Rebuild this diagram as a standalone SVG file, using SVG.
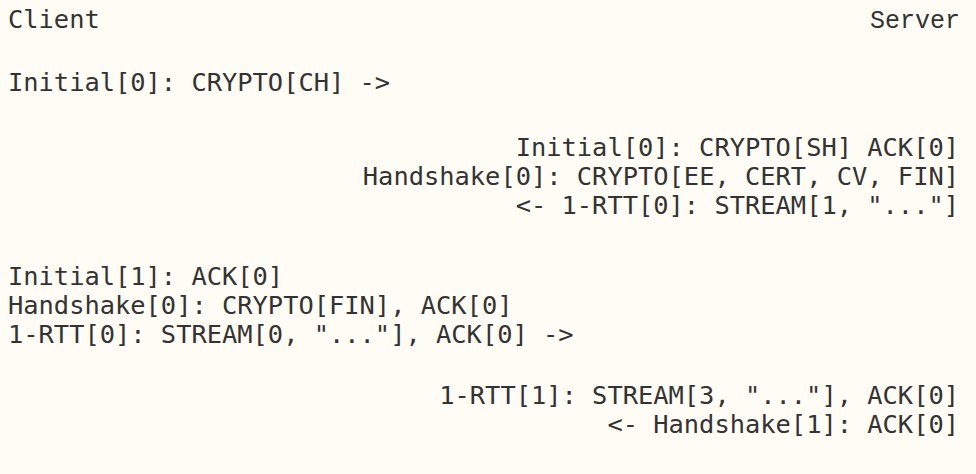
<svg xmlns="http://www.w3.org/2000/svg" width="976" height="474" viewBox="0 0 976 474">
<style>
.t{font-family:"DejaVu Sans Mono","Liberation Mono",monospace;font-size:25.4px;fill:#333;white-space:pre}
.c{font-family:"Liberation Mono","DejaVu Sans Mono",monospace;font-size:25px;fill:#333}
.r{text-anchor:end}
</style>
<rect width="976" height="474" fill="#fffcf5"/>
<g id="client-label"><text class="t" x="8" y="28">Client</text></g>
<g id="server-label"><text class="c r" x="960" y="28">Server</text></g>
<g id="flight1"><text class="t" x="8" y="91">Initial[0]: CRYPTO[CH] -&gt;</text></g>
<g id="flight2">
<text class="t r" x="959" y="156">Initial[0]: CRYPTO[SH] ACK[0]</text>
<text class="t r" x="959" y="185">Handshake[0]: CRYPTO[EE, CERT, CV, FIN]</text>
<text class="t r" x="959" y="214">&lt;- 1-RTT[0]: STREAM[1, "..."]</text>
</g>
<g id="flight3">
<text class="t" x="8" y="285">Initial[1]: ACK[0]</text>
<text class="t" x="8" y="314">Handshake[0]: CRYPTO[FIN], ACK[0]</text>
<text class="t" x="8" y="343">1-RTT[0]: STREAM[0, "..."], ACK[0] -&gt;</text>
</g>
<g id="flight4">
<text class="t r" x="959" y="404">1-RTT[1]: STREAM[3, "..."], ACK[0]</text>
<text class="t r" x="959" y="433">&lt;- Handshake[1]: ACK[0]</text>
</g>
<g id="connectors"/>
</svg>
